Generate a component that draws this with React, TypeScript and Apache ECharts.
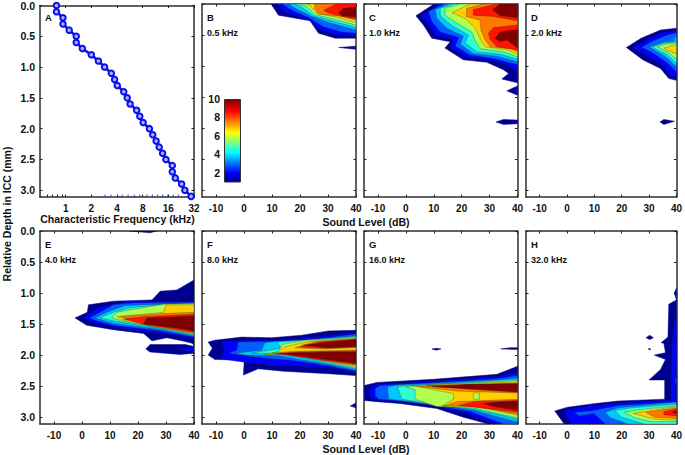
import React, { useEffect, useRef } from "react";
import * as echarts from "echarts";

type Poly = [number, number[][]];

const bandColors = ["#000090", "#0000ff", "#0060ff", "#00c8ff", "#30ffcf", "#b0ff50", "#ffd000", "#ff7800", "#ff1400", "#800000"];
const levelTicks = [-10, 0, 10, 20, 30, 40];
const depthTicks = [0, 0.5, 1, 1.5, 2, 2.5, 3];
const freqLabels = [1, 2, 4, 8, 16, 32];
const freqBlackTicks = [0.6, 0.7, 0.8, 0.9, 1, 2, 4, 8, 16, 32];
const freqBlueTicks = [2.9, 3.4, 4.6, 5.4, 6.4, 7.4, 9, 10.4, 12, 13.7, 15.8, 18.3, 21];
const panelLetters = ["A", "B", "C", "D", "E", "F", "G", "H"];
const panelFreqs = ["", "0.5 kHz", "1.0 kHz", "2.0 kHz", "4.0 kHz", "8.0 kHz", "16.0 kHz", "32.0 kHz"];
const scaleTicks = [2, 4, 6, 8, 10];

const cfFreq = [0.78, 0.78, 0.93, 0.93, 1.1, 1.33, 1.33, 1.57, 2.0, 2.42, 2.86, 3.43, 3.75, 4.03, 4.8, 5.27, 5.7, 6.8, 7.4, 8.1, 9.6, 10.5, 11.5, 12.5, 13.7, 15, 17.8, 17.8, 19.3, 22.9, 25, 29.6];
const cfDepth = [0, 0.1, 0.2, 0.3, 0.4, 0.5, 0.6, 0.7, 0.8, 0.9, 1, 1.1, 1.2, 1.3, 1.4, 1.5, 1.6, 1.7, 1.8, 1.9, 2, 2.1, 2.2, 2.3, 2.4, 2.5, 2.6, 2.7, 2.8, 2.9, 3, 3.1];

const panelB: Poly[] = [
  [0, [[9.7, 0], [12.3, .18], [23.6, .27], [26.6, .47], [32.6, .55], [40, .55], [40, 0]]],
  [1, [[11.7, 0], [15, .14], [23, .25], [27.2, .42], [33.8, .5], [40, .52], [40, 0]]],
  [2, [[13.7, 0], [17, .1], [23.6, .23], [28.4, .37], [35, .45], [40, .47], [40, 0]]],
  [3, [[15.9, 0], [18.3, .07], [24.2, .2], [30.2, .3], [40, .42], [40, 0]]],
  [4, [[17.9, 0], [20.6, .05], [24.8, .19], [31.4, .27], [40, .38], [40, 0]]],
  [5, [[19.7, 0], [22.4, .04], [25.4, .17], [32.6, .25], [40, .34], [40, 0]]],
  [6, [[22.4, 0], [23.6, .03], [26, .15], [33.8, .22], [40, .3], [40, 0]]],
  [7, [[25.4, 0], [25.2, .07], [26.6, .16], [35, .2], [40, .26], [40, 0]]],
  [8, [[33, 0], [28.4, .1], [30, .14], [35, .2], [40, .24], [40, 0]]],
  [9, [[33.8, .14], [35.6, .07], [40, .05], [40, .21], [35, .19]]],
  [0, [[33.8, .7], [40, .68], [40, .73]]],
  [1, [[37, .7], [40, .69], [40, .72]]],
];

const panelC: Poly[] = [
  [0, [[10.1, 0], [3.6, .19], [6.3, .34], [9.3, .55], [15.9, .61], [14, .71], [20.6, .9], [29, .94], [35, 1.06], [36.8, 1.12], [34.4, 1.21], [40, 1.27], [40, 0]]],
  [1, [[11.7, 0], [5.7, .19], [8.1, .31], [10.5, .5], [17, .57], [15.9, .7], [21.8, .86], [29.6, .9], [36.2, .98], [40, 1.09], [40, 0]]],
  [2, [[13.5, 0], [8.1, .12], [9.3, .28], [12.3, .45], [18.9, .54], [17.7, .68], [23, .82], [31.4, .88], [40, .98], [40, 0]]],
  [3, [[15.3, 0], [10.5, .09], [11.1, .23], [14.7, .39], [20.6, .52], [19.5, .65], [24.2, .8], [32.6, .84], [40, .93], [40, 0]]],
  [4, [[17, 0], [12.3, .07], [12.3, .19], [16.5, .35], [22.4, .5], [21.2, .63], [25.4, .77], [33.8, .81], [40, .89], [40, 0]]],
  [5, [[19.5, 0], [14, .07], [14, .18], [18.3, .31], [23.6, .45], [24.8, .59], [26.6, .72], [35, .77], [40, .85], [40, 0]]],
  [6, [[23, 0], [16.5, .14], [21.2, .23], [24.8, .39], [27.2, .61], [28.4, .69], [36.2, .74], [40, .81], [40, 0]]],
  [7, [[27.8, 0], [21.8, .07], [21.6, .2], [26.6, .26], [26.9, .42], [28.4, .58], [30.2, .69], [37.4, .72], [40, .77], [40, 0]]],
  [8, [[32.6, 0], [24.2, .09], [24.2, .18], [31.4, .2], [40, .27], [40, 0]]],
  [8, [[40, .34], [31.4, .38], [29.6, .47], [30.2, .57], [32.6, .69], [40, .74]]],
  [9, [[33.8, 0], [31.1, .09], [33.8, .19], [40, .22], [40, 0]]],
  [9, [[40, .41], [33.8, .45], [32, .55], [33.8, .61], [36.2, .58], [40, .71]]],
  [0, [[36.2, 1.4], [40, 1.32], [40, 1.47]]],
  [1, [[38.5, 1.4], [40, 1.36], [40, 1.43]]],
  [0, [[32.3, 1.9], [35, 1.86], [40, 1.87], [40, 1.93], [35, 1.94]]],
];

const panelD: Poly[] = [
  [0, [[21.7, .7], [27.1, .55], [34.2, .42], [40, .39], [40, 1.23], [37.2, 1.2], [34.2, 1.04], [27.7, .9]]],
  [1, [[24.1, .7], [28.9, .58], [34.8, .46], [40, .43], [40, 1.17], [37.8, 1.15], [34.8, .98], [28.9, .82]]],
  [2, [[27.3, .7], [30.7, .61], [36.6, .5], [40, .46], [40, 1.09], [36.6, .95], [30.7, .77]]],
  [3, [[30, .69], [36, .61], [39, .6], [40, .47], [40, 1.01], [36, .85], [31.9, .74]]],
  [4, [[31.3, .69], [35.4, .63], [40, .61], [40, .96], [36.6, .82], [33, .74]]],
  [5, [[33, .69], [36.6, .64], [40, .63], [40, .89], [36.6, .77]]],
  [6, [[35.4, .71], [39, .66], [40, .66], [40, .8], [37.8, .77]]],
  [0, [[34, 1.9], [35.4, 1.86], [39.3, 1.89], [35.4, 1.94]]],
];

const panelE: Poly[] = [
  [0, [[17, 0], [26.7, 0], [24.3, .03], [19.6, .01]]],
  [0, [[-2.5, 1.4], [1.9, 1.31], [2.3, 1.19], [11.2, 1.13], [25, 1.11], [27.9, .97], [33.9, .95], [40, .79], [40, 1.84], [39.3, 1.81], [36.9, 1.78], [30.3, 1.72], [25, 1.77], [22, 1.65], [11.2, 1.59], [1.7, 1.52]]],
  [0, [[22.8, 1.9], [24.3, 1.83], [30.3, 1.83], [36.9, 1.83], [40, 1.86], [40, 1.97], [35, 1.99], [24.3, 1.95]]],
  [1, [[33.3, 1.9], [40, 1.87], [40, 1.95]]],
  [1, [[.5, 1.4], [2.9, 1.33], [6.4, 1.22], [16, 1.14], [26.7, 1.13], [40, 1.13], [40, 1.74], [29, 1.65], [18.4, 1.6], [10, 1.54], [2.9, 1.46]]],
  [2, [[2.6, 1.4], [6.4, 1.31], [11.2, 1.19], [18.4, 1.16], [40, 1.15], [40, 1.71], [27.9, 1.61], [11.2, 1.52], [5.3, 1.45]]],
  [3, [[4.7, 1.4], [8.8, 1.31], [15.4, 1.2], [26.7, 1.18], [40, 1.17], [40, 1.69], [26.7, 1.58], [11.2, 1.49]]],
  [4, [[6.4, 1.4], [11.2, 1.31], [16.6, 1.24], [27.9, 1.19], [40, 1.18], [40, 1.67], [26.7, 1.56], [12.4, 1.46]]],
  [5, [[10.6, 1.4], [12.4, 1.31], [29.1, 1.18], [40, 1.17], [40, 1.66], [25.5, 1.54], [14.2, 1.45]]],
  [6, [[12.4, 1.38], [29.1, 1.31], [30, 1.19], [40, 1.19], [40, 1.65], [24.3, 1.53], [14.8, 1.44]]],
  [7, [[13.6, 1.38], [29.1, 1.33], [40, 1.31], [40, 1.64], [23.2, 1.52]]],
  [8, [[14.8, 1.42], [22, 1.38], [40, 1.34], [40, 1.63], [22, 1.5]]],
  [9, [[23.2, 1.4], [40, 1.37], [40, 1.61], [35, 1.57], [22, 1.5]]],
];

const panelF: Poly[] = [
  [0, [[-12.8, 1.79], [-10.4, 1.76], [-.8, 1.71], [9.9, 1.72], [20.6, 1.68], [30.2, 1.61], [40, 1.6], [40, 2.33], [30.2, 2.3], [14.1, 2.26], [5.1, 2.22], [-.2, 2.32], [.1, 2.08], [-10.4, 2.07], [-12.8, 2], [-11.3, 1.89]]],
  [1, [[-8, 1.79], [.4, 1.76], [11, 1.76], [21.8, 1.72], [40, 1.64], [40, 2.28], [30.2, 2.2], [14.1, 2.17], [3.9, 2.14], [-8.6, 2.06], [-6.8, 1.92]]],
  [2, [[-2, 1.79], [7.5, 1.78], [21.8, 1.76], [40, 1.66], [40, 2.26], [30.2, 2.17], [15.9, 2.08], [5.1, 2.04], [-5.6, 1.97], [-2.6, 1.92]]],
  [3, [[7.5, 1.8], [11, 1.78], [20.6, 1.76], [40, 1.69], [40, 2.24], [30.2, 2.15], [12.3, 2.01], [.4, 2], [-3.2, 1.97], [6.3, 1.92]]],
  [4, [[11.7, 1.79], [20.6, 1.76], [40, 1.7], [40, 2.22], [30.2, 2.13], [13.5, 1.97], [2.7, 1.97], [6.3, 1.94], [13.5, 1.89]]],
  [5, [[13.5, 1.83], [21.8, 1.76], [40, 1.72], [40, 2.2], [29, 2.1], [14.7, 1.97], [5.1, 2.02], [12.3, 1.94]]],
  [6, [[14.1, 1.87], [23, 1.78], [40, 1.73], [40, 2.18], [29, 2.09], [13.5, 1.97], [6.9, 2.01], [12.3, 1.95]]],
  [7, [[18.3, 1.88], [25.4, 1.78], [40, 1.74], [40, 1.88], [27.8, 1.9]]],
  [8, [[20, 1.87], [27, 1.79], [40, 1.745], [40, 1.87], [29, 1.89]]],
  [9, [[21, 1.84], [28, 1.8], [40, 1.75], [40, 1.86], [30, 1.88]]],
  [7, [[9.9, 1.97], [17, 1.94], [40, 1.92], [40, 2.16], [27, 2.08], [17, 1.99]]],
  [8, [[11.5, 1.98], [18.3, 1.95], [40, 1.93], [40, 2.15], [26.6, 2.07]]],
  [9, [[12.9, 1.97], [30, 1.95], [40, 1.95], [40, 2.13], [26, 2.05]]],
  [0, [[37.9, 2.82], [40, 2.77], [40, 2.85]]],
];

const panelG: Poly[] = [
  [0, [[-14.9, 2.49], [-10.4, 2.44], [9.9, 2.39], [32.6, 2.31], [40, 2.18], [40, 3.11], [29.6, 3.11], [20.6, 3], [11.1, 2.86], [-2, 2.78], [-10.4, 2.75], [-14.9, 2.73]]],
  [1, [[-13, 2.54], [-10.4, 2.47], [9.9, 2.42], [32.6, 2.35], [40, 2.28], [40, 3.11], [32, 3.11], [21.8, 2.94], [11.1, 2.83], [-.8, 2.75], [-10.4, 2.73], [-13, 2.67]]],
  [2, [[-11, 2.54], [-9.2, 2.49], [11.1, 2.44], [32.6, 2.38], [40, 2.33], [40, 3.11], [35, 3.11], [23, 2.91], [11.1, 2.82], [-1.4, 2.74], [-9.8, 2.71], [-11, 2.65]]],
  [3, [[-6.6, 2.51], [-3.2, 2.48], [12.3, 2.45], [32.6, 2.4], [40, 2.37], [40, 3.08], [24.2, 2.89], [12.3, 2.81], [-2, 2.73], [-6.2, 2.71]]],
  [4, [[-3, 2.51], [.4, 2.49], [13.5, 2.46], [40, 2.39], [40, 3.03], [24.2, 2.87], [12.3, 2.81], [2.7, 2.74], [-1.4, 2.71]]],
  [5, [[-.2, 2.51], [13.5, 2.47], [40, 2.41], [40, 3.01], [24.2, 2.85], [11.1, 2.83], [3.3, 2.71], [3.3, 2.56]]],
  [6, [[2.1, 2.49], [40, 2.43], [40, 2.97], [24.2, 2.81], [12.9, 2.82], [17.1, 2.71], [17.1, 2.62], [8.1, 2.54]]],
  [5, [[24.2, 2.61], [26.4, 2.61], [26.4, 2.71], [24.2, 2.71]]],
  [7, [[3.9, 2.5], [40, 2.45], [40, 2.61], [18.3, 2.58]]],
  [8, [[7.5, 2.49], [40, 2.46], [40, 2.6], [23, 2.55]]],
  [9, [[9.3, 2.51], [23, 2.47], [40, 2.46], [40, 2.59], [25.4, 2.55]]],
  [7, [[13.5, 2.82], [18.3, 2.75], [40, 2.71], [40, 2.95], [24.2, 2.83]]],
  [8, [[18.9, 2.81], [24.2, 2.75], [40, 2.73], [40, 2.92], [29, 2.86]]],
  [9, [[27.8, 2.78], [33.8, 2.75], [40, 2.74], [40, 2.89], [31.4, 2.83]]],
  [0, [[9.3, 1.9], [10.9, 1.89], [12.6, 1.9], [10.9, 1.92]]],
  [0, [[34, 1.9], [37.4, 1.88], [40, 1.88], [40, 1.91]]],
];

const panelH: Poly[] = [
  [0, [[-4.5, 2.9], [.2, 2.84], [10.4, 2.78], [18.7, 2.74], [35.7, 2.71], [35.7, 2.4], [30, 2.4], [34.2, 2.23], [36, 2.07], [31.9, 2], [36, 1.96], [35.4, 1.81], [34.4, 1.8], [36.9, 1.71], [37.2, 1.18], [40, 1.11], [39.2, 1], [40, .92], [40, 3.11], [-1, 3.11]]],
  [1, [[-1, 2.9], [4.4, 2.84], [18.7, 2.77], [38, 2.72], [38, 2.4], [38.4, 1.95], [38.4, 1.78], [40, 1.25], [40, 3.11], [1.4, 3.11]]],
  [2, [[2.6, 2.92], [8.6, 2.9], [18.7, 2.81], [40, 2.75], [40, 3.11], [14, 3.11], [9.8, 2.94], [4.4, 2.98]]],
  [3, [[14, 2.92], [18.7, 2.85], [40, 2.76], [40, 3.11], [22.3, 3.11], [15.8, 3.01]]],
  [4, [[17.5, 2.89], [23.5, 2.85], [40, 2.79], [40, 3.11], [28.3, 3.11], [19.9, 3]]],
  [5, [[21, 2.92], [28.3, 2.87], [40, 2.82], [40, 3.07], [30.7, 3.07], [24.8, 3.01]]],
  [6, [[24.2, 2.94], [30.7, 2.89], [40, 2.83], [40, 3.05], [31.9, 3.03]]],
  [7, [[28.9, 2.92], [40, 2.85], [40, 3.02], [31.9, 3]]],
  [8, [[35.4, 2.91], [40, 2.87], [40, 2.98], [35.4, 2.96]]],
  [9, [[38.4, 2.92], [40, 2.9], [40, 2.94]]],
  [2, [[39.4, 2.4], [40, 2.36], [40, 2.49]]],
  [0, [[28.9, 1.72], [30.2, 1.68], [31.6, 1.72], [30.2, 1.75]]],
  [0, [[29.7, 1.9], [30.4, 1.89], [30.4, 1.92]]],
];

const panels: Poly[][] = [panelB, panelC, panelD, panelE, panelF, panelG, panelH];

const FONT = "Liberation Sans";
const DEPTH_MAX = 3.11;
const grids = [
  { left: 40, top: 4, width: 154, height: 193 },
  { left: 202, top: 4, width: 154, height: 193 },
  { left: 364, top: 4, width: 153.5, height: 193 },
  { left: 526, top: 4, width: 153.5, height: 193 },
  { left: 40, top: 231, width: 154, height: 193 },
  { left: 202, top: 231, width: 154, height: 193 },
  { left: 364, top: 231, width: 153.5, height: 193 },
  { left: 526, top: 231, width: 153.5, height: 193 },
  { left: 224, top: 99, width: 17, height: 83 },
];
const frame = { lineStyle: { color: "#2e2e2e", width: 1.5 } };
const labelFont = { fontFamily: FONT, fontWeight: "bold" as const, fontSize: 10, color: "#111" };

function buildOption() {
  const xAxis: any[] = [];
  const yAxis: any[] = [];
  const series: any[] = [];
  for (let i = 0; i < 8; i++) {
    const isLog = i === 0;
    const xBase: any = isLog
      ? { type: "log", logBase: 2, min: 0.5, max: 32 }
      : { type: "value", min: -15, max: 40 };
    const xTickVals = isLog ? freqBlackTicks : levelTicks;
    const xLabelVals = isLog ? freqLabels : levelTicks;
    [false, true].forEach((mirror) => {
      xAxis.push({
        ...xBase,
        gridIndex: i,
        position: mirror ? "top" : "bottom",
        axisLine: { show: true, onZero: false, ...frame },
        splitLine: { show: false },
        minorTick: { show: false },
        axisTick: { show: true, inside: true, length: 2.5, lineStyle: { color: "#222", width: 1 }, customValues: mirror ? (isLog ? freqLabels : levelTicks) : xTickVals },
        axisLabel: mirror
          ? { show: false }
          : { show: true, margin: 6, ...labelFont, customValues: xLabelVals, formatter: (v: number) => String(v), hideOverlap: false, showMinLabel: true, showMaxLabel: true },
      });
      yAxis.push({
        type: "value",
        inverse: true,
        min: 0,
        max: DEPTH_MAX,
        gridIndex: i,
        position: mirror ? "right" : "left",
        axisLine: { show: true, onZero: false, ...frame },
        splitLine: { show: false },
        axisTick: { show: true, inside: true, length: 2.5, lineStyle: { color: "#222", width: 1 }, customValues: depthTicks },
        axisLabel:
          !mirror && (i === 0 || i === 4)
            ? { show: true, margin: 5, ...labelFont, fontSize: 10.5, customValues: depthTicks, formatter: (v: number) => v.toFixed(1), showMinLabel: true }
            : { show: false },
      });
    });
    const ax = i * 2;
    if (isLog) {
      series.push({
        type: "line",
        xAxisIndex: ax,
        yAxisIndex: ax,
        data: cfFreq.map((f, k) => [f, cfDepth[k]]),
        clip: false,
        symbol: "circle",
        symbolSize: 5.5,
        lineStyle: { color: "#0a10e8", width: 2.6 },
        itemStyle: { color: "#aab2ff", borderColor: "#0a10e8", borderWidth: 2 },
      });
      series.push({
        type: "scatter",
        xAxisIndex: ax,
        yAxisIndex: ax,
        data: freqBlueTicks.map((f) => [f, 3.09]),
        clip: false,
        symbol: "rect",
        symbolSize: [1, 2.5],
        itemStyle: { color: "#2020e0" },
      });
    } else {
      const polys = panels[i - 1];
      series.push({
        type: "custom",
        xAxisIndex: ax,
        yAxisIndex: ax,
        clip: true,
        data: polys.map((_, k) => [k]),
        encode: { x: -1, y: -1 },
        renderItem: (params: any, api: any) => {
          const [band, pts] = polys[params.dataIndex];
          return {
            type: "polygon",
            shape: { points: pts.map((p) => api.coord(p)) },
            style: { fill: bandColors[band], stroke: band === 0 ? bandColors[0] : "rgba(30,30,30,0.55)", lineWidth: 0.5 },
          };
        },
      });
    }
  }

  // colour scale
  const sIdx = 16;
  xAxis.push({ type: "category", gridIndex: 8, data: ["scale"], axisLine: { show: false }, axisTick: { show: false }, axisLabel: { show: false }, position: "top" });
  yAxis.push({
    type: "value",
    gridIndex: 8,
    min: 1,
    max: 10,
    interval: 1,
    axisLine: { show: false },
    axisTick: { show: false },
    splitLine: { show: false },
    axisLabel: { show: true, margin: 4, ...labelFont, fontSize: 10.5, formatter: (v: number) => (scaleTicks.includes(v) ? String(v) : "") },
  });
  series.push({
    type: "bar",
    xAxisIndex: sIdx,
    yAxisIndex: sIdx,
    data: [10],
    barWidth: "100%",
    itemStyle: {
      borderColor: "#333",
      borderWidth: 1,
      color: new echarts.graphic.LinearGradient(0, 1, 0, 0, [
        { offset: 0, color: "#00008f" },
        { offset: 0.11, color: "#0000ff" },
        { offset: 0.36, color: "#00ffff" },
        { offset: 0.6, color: "#ffff00" },
        { offset: 0.86, color: "#ff0000" },
        { offset: 1, color: "#800000" },
      ]),
    },
  });

  const gText = (x: number, y: number, text: string, extra: any = {}) => ({
    type: "text",
    x,
    y,
    silent: true,
    ...extra,
    style: { text, fontFamily: FONT, fontWeight: "bold", fontSize: 10, fill: "#111", textVerticalAlign: "middle", ...(extra.style || {}) },
  });
  const lx = [45, 207, 369, 531, 45, 207, 369, 531];
  const graphic: any[] = [];
  for (let i = 0; i < 8; i++) {
    const top = i < 4 ? 17.5 : 244.5;
    graphic.push(gText(lx[i], top, panelLetters[i], { style: { fontSize: 9.5 } }));
    if (panelFreqs[i]) graphic.push(gText(lx[i], top + 15.5, panelFreqs[i], { style: { fontSize: 9 } }));
  }
  graphic.push(gText(117.5, 219, "Characteristic Frequency (kHz)", { style: { fontSize: 10.5, textAlign: "center" } }));
  graphic.push(gText(366, 222, "Sound Level (dB)", { style: { fontSize: 10.6, textAlign: "center" } }));
  graphic.push(gText(366, 449, "Sound Level (dB)", { style: { fontSize: 10.6, textAlign: "center" } }));
  graphic.push(gText(7, 214, "Relative Depth in ICC (mm)", { rotation: Math.PI / 2, style: { fontSize: 10.5, textAlign: "center" } }));

  return { animation: false, backgroundColor: "#fff", grid: grids, xAxis, yAxis, series, graphic };
}

export default function App() {
  const ref = useRef<HTMLDivElement>(null);
  useEffect(() => {
    document.body.style.margin = "0";
    const chart = echarts.init(ref.current!, undefined, { renderer: "svg" });
    chart.setOption(buildOption());
    return () => chart.dispose();
  }, []);
  return <div ref={ref} style={{ width: 685, height: 455 }} />;
}
